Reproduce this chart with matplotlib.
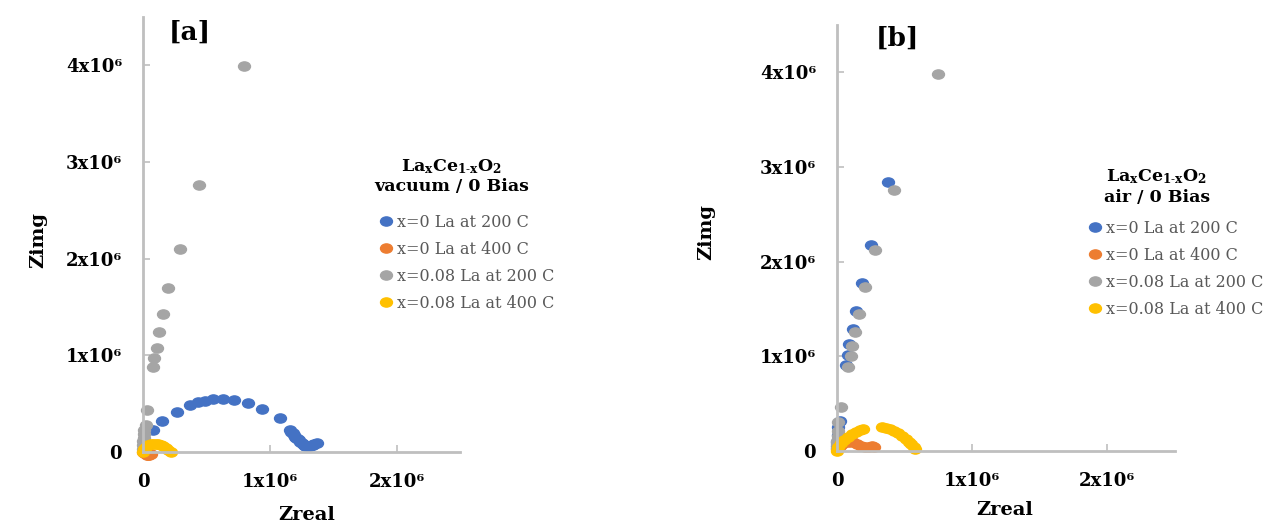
import numpy as np
import matplotlib
matplotlib.use("Agg")
import matplotlib.pyplot as plt
from matplotlib.path import Path
from matplotlib.transforms import Affine2D

plt.rcParams['font.family'] = ['DejaVu Serif']
plt.rcParams['mathtext.fontset'] = 'dejavuserif'
plt.rcParams['mathtext.default'] = 'bf'

# data in units of 1e6 ohm
series_names = ["x=0 La at 200 C", "x=0 La at 400 C", "x=0.08 La at 200 C", "x=0.08 La at 400 C"]
colors = ["#4472C4", "#ED7D31", "#A5A5A5", "#FFC000"]

# panel [a] vacuum
a_blue_x = [0.01, 0.04, 0.08, 0.15, 0.27, 0.37, 0.43, 0.49, 0.55, 0.63, 0.72, 0.83, 0.94, 1.08,
            1.16, 1.17, 1.18, 1.19, 1.20, 1.21, 1.22, 1.23, 1.24, 1.25, 1.26, 1.27, 1.28, 1.29,
            1.30, 1.31, 1.32, 1.33, 1.34, 1.35, 1.37]
a_blue_y = [0.02, 0.07, 0.23, 0.32, 0.41, 0.49, 0.52, 0.53, 0.55, 0.55, 0.54, 0.51, 0.44, 0.35,
            0.23, 0.21, 0.20, 0.18, 0.16, 0.15, 0.13, 0.12, 0.10, 0.09, 0.08, 0.07, 0.06, 0.06,
            0.06, 0.06, 0.06, 0.07, 0.07, 0.08, 0.09]
a_orange_x = [0.00, 0.01, 0.02, 0.03, 0.04, 0.05, 0.06]
a_orange_y = [0.00, -0.01, -0.02, -0.03, -0.03, -0.03, -0.02]
a_gray_x = [0.00, 0.00, 0.00, 0.01, 0.01, 0.01, 0.02, 0.03, 0.08, 0.09, 0.11, 0.13, 0.16, 0.20,
            0.29, 0.44, 0.80]
a_gray_y = [0.03, 0.07, 0.11, 0.15, 0.19, 0.23, 0.28, 0.43, 0.88, 0.97, 1.08, 1.24, 1.43, 1.70,
            2.10, 2.76, 3.99]
a_yellow_x = [0.00, 0.01, 0.02, 0.04, 0.06, 0.08, 0.10, 0.12, 0.14, 0.16, 0.18, 0.20, 0.22]
a_yellow_y = [0.00, 0.03, 0.05, 0.07, 0.08, 0.085, 0.085, 0.08, 0.07, 0.06, 0.04, 0.02, 0.00]

# panel [b] air
b_blue_x = [0.00, 0.00, 0.01, 0.01, 0.02, 0.07, 0.08, 0.09, 0.12, 0.14, 0.185, 0.25, 0.38]
b_blue_y = [0.05, 0.10, 0.17, 0.25, 0.32, 0.91, 1.01, 1.13, 1.29, 1.48, 1.77, 2.18, 2.84]
b_orange_x = [0.00, 0.02, 0.04, 0.06, 0.09, 0.12, 0.15, 0.18, 0.21, 0.24, 0.26, 0.27]
b_orange_y = [0.02, 0.05, 0.07, 0.09, 0.10, 0.09, 0.07, 0.05, 0.04, 0.04, 0.05, 0.04]
b_gray_x = [0.00, 0.00, 0.00, 0.01, 0.01, 0.01, 0.03, 0.08, 0.10, 0.11, 0.13, 0.16, 0.21, 0.28,
            0.42, 0.75]
b_gray_y = [0.03, 0.07, 0.11, 0.16, 0.21, 0.31, 0.47, 0.89, 1.00, 1.11, 1.26, 1.45, 1.73, 2.12,
            2.76, 3.98]
b_yellow_x = [0.00, 0.01, 0.03, 0.05, 0.08, 0.11, 0.14, 0.17, 0.19,
              0.33, 0.36, 0.39, 0.42, 0.45, 0.48, 0.51, 0.53, 0.55, 0.57, 0.58]
b_yellow_y = [0.00, 0.04, 0.08, 0.12, 0.15, 0.18, 0.20, 0.22, 0.23,
              0.25, 0.24, 0.23, 0.21, 0.19, 0.16, 0.13, 0.10, 0.07, 0.04, 0.02]

panels = [
    dict(tag="[a]", cond="vacuum / 0 Bias",
         xs=[a_blue_x, a_orange_x, a_gray_x, a_yellow_x],
         ys=[a_blue_y, a_orange_y, a_gray_y, a_yellow_y]),
    dict(tag="[b]", cond="air / 0 Bias",
         xs=[b_blue_x, b_orange_x, b_gray_x, b_yellow_x],
         ys=[b_blue_y, b_orange_y, b_gray_y, b_yellow_y]),
]

W, H = 1271, 523
fig = plt.figure(figsize=(W / 100, H / 100), dpi=100)

def fx(px):
    return px / W

def fy(py):
    return 1 - py / H

# axes boxes in pixels: left, right, top, bottom
boxes = [(143, 460, 17, 452), (837, 1175, 25, 451)]
tag_pos = [(190, 32), (897, 38)]
ylab_pos = [(38, 240), (706, 232)]
xlab_pos = [(307, 515), (1005, 510)]
title_pos = [(452, 167), (1157, 177)]
leg_pos = [(380, 214), (1089, 220)]

ell = Path.unit_circle().transformed(Affine2D().scale(1.3, 1.0))

for i, p in enumerate(panels):
    l, r, t, b = boxes[i]
    ax = fig.add_axes([fx(l), fy(b), fx(r - l), (b - t) / H])
    for name, c, x, y in zip(series_names, colors, p["xs"], p["ys"]):
        ax.plot(np.array(x) * 1e6, np.array(y) * 1e6, linestyle="none", marker=ell,
                markersize=8.6, color=c, label=name, clip_on=False)
    ax.set_xlim(0, 2.5e6)
    ax.set_ylim(0, 4.5e6)
    ax.set_xticks([0, 1e6, 2e6])
    ax.set_yticks([0, 1e6, 2e6, 3e6, 4e6])
    ax.set_xticklabels(["0", "1x10\u2076", "2x10\u2076"])
    ax.set_yticklabels(["0", "1x10\u2076", "2x10\u2076", "3x10\u2076", "4x10\u2076"])
    for lab in ax.get_xticklabels() + ax.get_yticklabels():
        lab.set_fontweight("bold")
        lab.set_fontsize(13)
    ax.tick_params(axis="both", direction="in", length=5, width=1.2, color="#BFBFBF")
    ax.tick_params(axis="x", pad=15)
    ax.tick_params(axis="y", pad=15)
    for s in ["top", "right"]:
        ax.spines[s].set_visible(False)
    for s in ["left", "bottom"]:
        ax.spines[s].set_color("#BFBFBF")
        ax.spines[s].set_linewidth(2)
    ax.patch.set_alpha(0)

    fig.text(fx(tag_pos[i][0]), fy(tag_pos[i][1]), p["tag"], fontsize=19, fontweight="bold",
             ha="center", va="center")
    fig.text(fx(ylab_pos[i][0]), fy(ylab_pos[i][1]), "Zimg", fontsize=14, fontweight="bold",
             rotation=90, ha="center", va="center")
    fig.text(fx(xlab_pos[i][0]), fy(xlab_pos[i][1]), "Zreal", fontsize=14, fontweight="bold",
             ha="center", va="center")
    tx, ty = title_pos[i]
    fig.text(fx(tx), fy(ty), r"La$_{x}$Ce$_{1\text{-}x}$O$_{2}$", fontsize=12.5, fontweight="bold",
             ha="center", va="center")
    fig.text(fx(tx), fy(ty + 20), p["cond"], fontsize=12.5, fontweight="bold",
             ha="center", va="center")

    lx, ly = leg_pos[i]
    leg = ax.legend(loc="upper left", bbox_to_anchor=(fx(lx), fy(ly)),
                    bbox_transform=fig.transFigure, frameon=False, fontsize=11.5,
                    handlelength=0.8, handletextpad=0.25, labelspacing=0.62,
                    borderpad=0, borderaxespad=0, markerscale=1.0)
    for txt in leg.get_texts():
        txt.set_color("#595959")

fig.savefig("out.png", dpi=100)
